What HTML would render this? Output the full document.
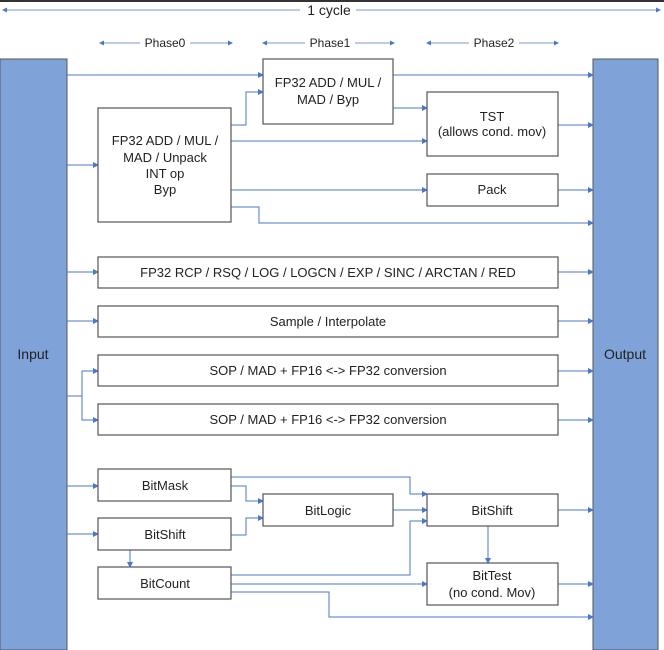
<!DOCTYPE html>
<html><head><style>body{margin:0;background:#fff}svg{display:block}</style></head><body>
<svg width="664" height="650" xmlns="http://www.w3.org/2000/svg" font-family="Liberation Sans, sans-serif" font-size="13" fill="#222">
<defs><marker id="a" markerWidth="6" markerHeight="6" refX="5" refY="3" orient="auto" markerUnits="userSpaceOnUse"><path d="M0,0L6,3L0,6z" fill="#4a78c8"/></marker>
<marker id="s" markerWidth="5" markerHeight="5" refX="4" refY="2.5" orient="auto" markerUnits="userSpaceOnUse"><path d="M0,0L5,2.5L0,5z" fill="#4a78c8"/></marker></defs>
<rect x="0" y="0" width="664" height="2" fill="#333"/>
<g stroke="#7a9ad0" stroke-width="1" fill="none" marker-end="url(#s)">
<line x1="300" y1="10" x2="3" y2="10"/><line x1="356" y1="10" x2="660" y2="10"/>
<line x1="140" y1="43" x2="100" y2="43"/><line x1="190" y1="43" x2="232" y2="43"/>
<line x1="305" y1="43" x2="263" y2="43"/><line x1="355" y1="43" x2="394" y2="43"/>
<line x1="469" y1="43" x2="427" y2="43"/><line x1="519" y1="43" x2="558" y2="43"/>
</g>
<text x="329" y="15" text-anchor="middle" font-size="14">1 cycle</text>
<text x="165" y="47" text-anchor="middle" font-size="12">Phase0</text>
<text x="330" y="47" text-anchor="middle" font-size="12">Phase1</text>
<text x="494" y="47" text-anchor="middle" font-size="12">Phase2</text>
<rect x="0" y="59" width="67" height="591" fill="#7fa2d8" stroke="#555"/>
<rect x="593" y="59" width="65" height="591" fill="#7fa2d8" stroke="#555"/>
<text x="33" y="359" text-anchor="middle" font-size="14">Input</text>
<text x="625" y="359" text-anchor="middle" font-size="14">Output</text>
<g stroke="#4a78c8" stroke-width="1" fill="none" marker-end="url(#a)">
<path d="M67,75H263"/><path d="M393,75H593"/>
<path d="M231,125H246V92H263"/><path d="M67,165H98"/>
<path d="M231,141H427"/><path d="M393,108H427"/><path d="M558,125H593"/>
<path d="M231,190H427"/><path d="M558,190H593"/><path d="M231,207H259V223H593"/>
<path d="M67,272H98"/><path d="M558,272H593"/>
<path d="M67,321H98"/><path d="M558,321H593"/>
<path d="M67,396H82V371H98"/><path d="M82,396V420H98"/>
<path d="M558,371H593"/><path d="M558,420H593"/>
<path d="M67,486H98"/><path d="M67,534H98"/>
<path d="M231,477H410V494H427"/><path d="M231,486H246V501H263"/><path d="M231,535H246V518H263"/>
<path d="M393,510H427"/><path d="M231,575H410V521H427"/><path d="M231,584H427"/>
<path d="M231,592H329V617H593"/><path d="M558,510H593"/><path d="M488,526V563"/><path d="M130,550V567"/>
<path d="M558,584H593"/>
</g>
<g fill="#fff" stroke="#555" stroke-width="1.2">
<rect x="263" y="59" width="130" height="65"/>
<rect x="98" y="108" width="133" height="114"/>
<rect x="427" y="92" width="131" height="64"/>
<rect x="427" y="174" width="131" height="32"/>
<rect x="98" y="257" width="460" height="31"/>
<rect x="98" y="306" width="460" height="31"/>
<rect x="98" y="355" width="460" height="31"/>
<rect x="98" y="404" width="460" height="31"/>
<rect x="98" y="469" width="133" height="32"/>
<rect x="98" y="518" width="133" height="32"/>
<rect x="98" y="567" width="133" height="32"/>
<rect x="263" y="494" width="130" height="32"/>
<rect x="427" y="494" width="131" height="32"/>
<rect x="427" y="563" width="131" height="42"/>
</g>
<g text-anchor="middle">
<text x="328" y="87">FP32 ADD / MUL /</text><text x="328" y="104">MAD / Byp</text>
<text x="165" y="145">FP32 ADD / MUL /</text><text x="165" y="162">MAD / Unpack</text><text x="165" y="178">INT op</text><text x="165" y="194">Byp</text>
<text x="492" y="121">TST</text><text x="492" y="136">(allows cond. mov)</text>
<text x="492" y="194">Pack</text>
<text x="328" y="277">FP32 RCP / RSQ / LOG / LOGCN / EXP / SINC / ARCTAN / RED</text>
<text x="328" y="326">Sample / Interpolate</text>
<text x="328" y="375">SOP / MAD + FP16 &lt;-&gt; FP32 conversion</text>
<text x="328" y="424">SOP / MAD + FP16 &lt;-&gt; FP32 conversion</text>
<text x="165" y="490">BitMask</text><text x="165" y="539">BitShift</text><text x="165" y="588">BitCount</text>
<text x="328" y="515">BitLogic</text><text x="492" y="515">BitShift</text>
<text x="492" y="580">BitTest</text><text x="492" y="597">(no cond. Mov)</text>
</g>
</svg>
</body></html>
